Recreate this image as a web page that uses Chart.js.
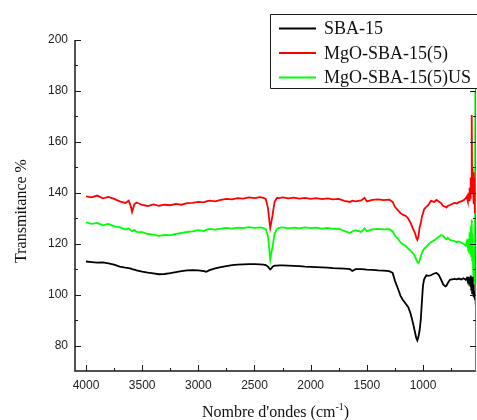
<!DOCTYPE html>
<html>
<head>
<meta charset="utf-8">
<title>FTIR</title>
<script src="https://cdn.jsdelivr.net/npm/chart.js@4.4.1/dist/chart.umd.min.js"></script>
<style>
  html, body { margin: 0; padding: 0; background: #fff; overflow: hidden; }
  #wrap { width: 477px; height: 420px; position: relative; }
</style>
</head>
<body>
<div id="wrap"><canvas id="chart"></canvas></div>
<script>
// wavenumbers (cm-1), shared by the three spectra
const wavenumbers = [
  4000, 3950, 3900, 3850, 3800, 3750, 3700, 3650, 3620, 3600,
  3590, 3570, 3550, 3500, 3450, 3400, 3350, 3300, 3250, 3200,
  3150, 3100, 3050, 3000, 2950, 2930, 2900, 2850, 2800, 2750,
  2700, 2650, 2600, 2550, 2500, 2450, 2420, 2400, 2380, 2370,
  2360, 2350, 2340, 2330, 2320, 2300, 2280, 2250, 2200, 2150,
  2100, 2050, 2000, 1950, 1900, 1850, 1800, 1750, 1700, 1650,
  1630, 1600, 1550, 1520, 1500, 1450, 1400, 1350, 1300, 1270,
  1250, 1220, 1200, 1180, 1150, 1130, 1110, 1090, 1070, 1060,
  1050, 1040, 1030, 1020, 1010, 1000, 990, 970, 950, 930,
  900, 880, 860, 840, 820, 800, 790, 780, 760, 740,
  720, 700, 680, 660, 640, 620, 610, 600, 595, 590,
  585, 580, 575, 570, 566, 562, 558, 554, 550, 546,
  542, 538, 534, 530
];

const sba15 = [
  113.0, 112.8, 112.6, 112.7, 112.3, 111.8, 111.0, 110.6, 110.4, 110.2,
  110.0, 109.8, 109.5, 109.0, 108.6, 108.3, 108.0, 108.1, 108.4, 108.8,
  109.2, 109.5, 109.6, 109.5, 109.2, 109.0, 109.6, 110.3, 110.8, 111.2,
  111.6, 111.8, 111.9, 112.0, 112.0, 111.9, 111.8, 111.6, 111.0, 110.4,
  109.9, 110.3, 110.9, 111.2, 111.4, 111.4, 111.5, 111.5, 111.4, 111.3,
  111.2, 111.0, 110.9, 110.8, 110.7, 110.6, 110.4, 110.3, 110.2, 110.0,
  109.3, 110.0, 110.0, 109.9, 109.8, 109.7, 109.5, 109.4, 109.2, 108.5,
  105.5, 102.0, 99.5, 98.0, 96.2, 95.0, 92.5, 89.0, 85.0, 83.0,
  82.0, 83.5, 86.0, 90.0, 97.0, 103.5, 106.0, 107.6, 107.4, 107.6,
  108.3, 108.5, 107.8, 106.0, 104.0, 103.2, 103.5, 104.5, 105.8, 106.0,
  106.2, 106.0, 106.3, 105.9, 106.4, 105.8, 106.5, 105.0, 107.0, 104.5,
  106.8, 103.5, 107.5, 102.0, 106.0, 100.5, 107.0, 101.0, 104.0, 99.0,
  101.5, 98.0, 100.5, 96.0
];

const mgoSba15 = [
  138.6, 138.2, 138.9, 137.8, 138.4, 137.6, 136.6, 136.0, 136.9, 134.5,
  132.5, 135.5, 136.2, 135.2, 134.8, 135.4, 134.9, 135.3, 135.1, 135.6,
  135.3, 135.9, 136.0, 136.4, 136.2, 136.6, 136.9, 136.6, 137.2, 137.6,
  137.4, 137.9, 137.7, 138.2, 137.9, 138.3, 138.0, 137.6, 134.0, 130.0,
  126.2, 128.5, 131.0, 134.0, 136.5, 138.0, 137.9, 138.2, 137.8, 138.1,
  137.7, 138.0, 137.6, 137.9, 137.5, 137.8, 137.4, 137.6, 136.8, 136.4,
  136.9, 136.6, 137.0, 138.0, 136.6, 137.2, 137.4, 137.1, 137.3, 136.4,
  134.5, 133.0, 132.0, 131.4, 130.8, 129.8, 128.2, 126.0, 124.0, 122.5,
  121.5, 122.8, 126.5, 128.0, 130.5, 132.0, 133.5, 134.5, 135.3, 136.8,
  136.4, 137.2, 136.6, 136.0, 134.8, 134.5, 134.2, 134.8, 135.2, 135.6,
  136.0, 135.8, 136.3, 136.6, 137.0, 137.8, 138.5, 136.5, 140.0, 137.0,
  142.0, 138.0, 146.0, 140.0, 170.5, 142.0, 149.5, 141.0, 148.0, 135.5,
  146.0, 132.0, 143.0, 138.0
];

const mgoSba15US = [
  128.4, 127.8, 128.2, 127.2, 127.8, 126.8, 126.5, 125.6, 126.0, 125.2,
  124.8, 125.4, 124.6, 124.5, 123.8, 123.6, 123.1, 123.5, 123.4, 123.9,
  124.2, 124.6, 124.8, 125.3, 125.0, 125.4, 125.8, 125.5, 125.9, 126.2,
  125.9, 126.3, 126.1, 126.5, 126.2, 126.4, 126.1, 125.7, 123.0, 118.5,
  113.7, 116.5, 118.5, 121.5, 124.0, 125.8, 126.2, 126.4, 126.0, 126.3,
  126.0, 126.4, 126.1, 126.3, 125.9, 126.2, 125.8, 125.9, 125.0, 124.2,
  124.8, 125.3, 124.6, 126.0, 124.9, 125.6, 125.8, 125.6, 125.7, 124.8,
  123.2, 121.8, 120.5, 119.8, 119.0, 118.0, 117.2, 116.3, 115.0, 113.8,
  112.8, 112.4, 113.5, 115.0, 116.3, 117.3, 118.0, 118.8, 119.8, 120.6,
  121.3, 122.0, 122.6, 123.4, 123.0, 122.0, 121.8, 122.3, 121.5, 121.2,
  121.0, 120.6, 120.9, 120.4, 120.0, 119.2, 120.8, 118.5, 122.0, 117.0,
  124.5, 116.0, 127.0, 115.0, 129.5, 113.5, 124.0, 110.0, 118.0, 105.0,
  110.0, 104.0, 180.0, 99.0
];

const seriesLabels = ["SBA-15", "MgO-SBA-15(5)", "MgO-SBA-15(5)US"];
const seriesColors = ["#000000", "#ff0000", "#00ff00"];

const xTicks = [4000, 3500, 3000, 2500, 2000, 1500, 1000];
const xMinorTicks = [3750, 3250, 2750, 2250, 1750, 1250, 750];
const yTicks = [80, 100, 120, 140, 160, 180, 200];
const yMinorTicks = [90, 110, 130, 150, 170, 190];

const toPoints = vals => wavenumbers.map((w, i) => ({ x: w, y: vals[i] }));

const serif = "'Liberation Serif', 'Times New Roman', serif";

// axis frame with inward ticks, axis titles and boxed legend
const frame = {
  id: "frame",
  afterDraw(chart) {
    const { ctx, chartArea: a, scales: { x, y } } = chart;
    ctx.save();

    ctx.strokeStyle = "#1a1a1a";
    ctx.lineWidth = 1.5;
    ctx.beginPath();
    ctx.moveTo(a.left, a.top);
    ctx.lineTo(a.left, a.bottom);
    ctx.lineTo(a.right, a.bottom);
    ctx.stroke();
    ctx.strokeStyle = "#777";
    ctx.lineWidth = 1;
    ctx.beginPath();
    ctx.moveTo(a.right - 0.5, a.top);
    ctx.lineTo(a.right - 0.5, a.bottom);
    ctx.stroke();

    ctx.strokeStyle = "#1a1a1a";
    ctx.beginPath();
    const tickX = (list, len) => list.forEach(v => {
      const px = Math.round(x.getPixelForValue(v)) + 0.5;
      ctx.moveTo(px, a.bottom);
      ctx.lineTo(px, a.bottom - len);
    });
    const tickY = (list, len) => list.forEach(v => {
      const py = Math.round(y.getPixelForValue(v)) + 0.5;
      ctx.moveTo(a.left, py);
      ctx.lineTo(a.left + len, py);
      ctx.moveTo(a.right, py);
      ctx.lineTo(a.right - len, py);
    });
    tickX(xTicks, 6);
    tickX(xMinorTicks, 3);
    tickY(yTicks, 6);
    tickY(yMinorTicks, 3);
    ctx.stroke();

    // axis titles
    ctx.fillStyle = "#111";
    ctx.textBaseline = "alphabetic";
    ctx.textAlign = "left";
    const base = "Nombre d'ondes (cm";
    ctx.font = "16px " + serif;
    const wBase = ctx.measureText(base).width;
    const wEnd = ctx.measureText(")").width;
    ctx.font = "10px " + serif;
    const wSup = ctx.measureText("-1").width;
    let tx = (a.left + a.right) / 2 - (wBase + wSup + wEnd) / 2;
    const ty = 417;
    ctx.font = "16px " + serif;
    ctx.fillText(base, tx, ty);
    tx += wBase;
    ctx.font = "10px " + serif;
    ctx.fillText("-1", tx, ty - 7);
    tx += wSup;
    ctx.font = "16px " + serif;
    ctx.fillText(")", tx, ty);

    ctx.save();
    ctx.translate(26, 211);
    ctx.rotate(-Math.PI / 2);
    ctx.textAlign = "center";
    ctx.fillText("Transmitance %", 0, 0);
    ctx.restore();

    // legend box, open on the right where it runs off the canvas
    ctx.fillStyle = "#fff";
    ctx.fillRect(270, 14, chart.width - 270, 75);
    ctx.strokeStyle = "#1a1a1a";
    ctx.lineWidth = 1;
    ctx.beginPath();
    ctx.moveTo(chart.width, 14.5);
    ctx.lineTo(270.5, 14.5);
    ctx.lineTo(270.5, 88.5);
    ctx.lineTo(chart.width, 88.5);
    ctx.stroke();
    ctx.font = "18px " + serif;
    ctx.textBaseline = "middle";
    chart.data.datasets.forEach((ds, i) => {
      const ly = 28.5 + i * 24.5;
      ctx.strokeStyle = ds.borderColor;
      ctx.lineWidth = 2;
      ctx.beginPath();
      ctx.moveTo(279, ly);
      ctx.lineTo(316, ly);
      ctx.stroke();
      ctx.fillStyle = "#111";
      ctx.fillText(ds.label, 324, ly + 1);
    });

    ctx.restore();
  }
};

new Chart(document.getElementById("chart"), {
  type: "line",
  data: {
    datasets: [sba15, mgoSba15, mgoSba15US].map((vals, i) => ({
      label: seriesLabels[i],
      data: toPoints(vals),
      borderColor: seriesColors[i],
      borderWidth: 1.8,
      pointRadius: 0,
      tension: 0,
      fill: false
    }))
  },
  options: {
    responsive: true,
    maintainAspectRatio: false,
    animation: false,
    layout: { padding: { left: 0, top: 40, right: 1, bottom: 0 } },
    plugins: { legend: { display: false }, tooltip: { enabled: false } },
    scales: {
      x: {
        type: "linear",
        reverse: true,
        min: 528,
        max: 4098,
        grid: { display: false, drawTicks: false },
        border: { display: false },
        afterBuildTicks: s => { s.ticks = xTicks.map(v => ({ value: v })); },
        afterFit: s => { s.height = 49; },
        ticks: {
          padding: 7,
          maxRotation: 0,
          color: "#222",
          font: { family: "'Liberation Sans', Arial, sans-serif", size: 12 },
          callback: v => String(v)
        }
      },
      y: {
        min: 70,
        max: 200,
        grid: { display: false, drawTicks: false },
        border: { display: false },
        afterBuildTicks: s => { s.ticks = yTicks.map(v => ({ value: v })); },
        afterFit: s => { s.width = 75; },
        ticks: {
          padding: 7,
          color: "#222",
          font: { family: "'Liberation Sans', Arial, sans-serif", size: 12 },
          callback: v => String(v)
        }
      }
    }
  },
  plugins: [frame]
});
</script>
</body>
</html>
